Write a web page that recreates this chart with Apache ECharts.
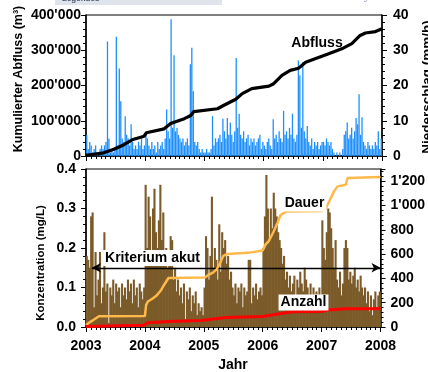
<!DOCTYPE html>
<html>
<head>
<meta charset="utf-8">
<script src="https://cdn.jsdelivr.net/npm/echarts@6/dist/echarts.min.js"></script>
<style>
html,body{margin:0;padding:0;background:#fff;}
#chart{width:428px;height:372px;}
</style>
</head>
<body>
<div id="chart"></div>
<script>
// ---- Data ----
const years = [2003, 2004, 2005, 2006, 2007];
const xTickLabels = ['2003', '2004', '2005', '2006', '2007', '2008'];

// Niederschlag (mm/h), ~9-day steps, 40 per year
const precip2003 = [6,2,4,3,1,2,3,1,0,2,3,2,3,4,32.5,5,1,2,1,2,33.8,3,24.8,15.5,5,4,11.3,6,5,3,9,4,2,3,2,4,3,5,2,3];
const precip2004 = [6,5,3,2,4,2,3,1,4,2,3,4,2,5,13.2,7,5,38.8,8,28.6,7,8,6,5,4,5,3,4,5,3,26,30.7,18.4,4,3,4,2,1,2,1];
const precip2005 = [1,2,1,1,2,11.3,3,5,4,5,6,4,10.6,7,5,10.8,6,9.5,6,4,7,27.8,8,12,6,5,7,4,5,6,3,5,4,5,3,4,5,6,2,4];
const precip2006 = [3,2,4,5,3,2,10.4,5,6,4,7,5,4,12.8,6,7,5,8,6,12,5,4,6,27.1,22.9,8,26.7,7,5,8.5,4,3,5,2,4,3,4,2,3,4];
const precip2007 = [4,3,5,4,3,4,2,1,0,1,0,1,0,2,6,7,9.5,5,6,8,5,7,10.8,9,17.5,6,11,4,3,2,4,3,2,3,2,4,3,7,2,5];

// Konzentration (mg/L), 40 per year
const conc2003 = [0.18,0.17,0.15,0.28,0.29,0.05,0.19,0.08,0.12,0.19,0.06,0.1,0.24,0.09,0.11,0.01,0.1,0.08,0.12,0.06,0.11,0.09,0.1,0.05,0.11,0.08,0.1,0.07,0.12,0.09,0.11,0.06,0.12,0.08,0.1,0.05,0.11,0.09,0.07,0.1];
const conc2004 = [0.36,0.2,0.33,0.28,0.18,0.3,0.35,0.24,0.2,0.27,0.36,0.22,0.29,0.18,0.2,0.15,0.19,0.23,0.22,0.12,0.15,0.09,0.12,0.08,0.1,0.06,0.11,0.02,0.09,0.07,0.1,0.04,0.08,0.06,0.09,0.03,0.06,0.04,0.05,0.03];
const conc2005 = [0.1,0.23,0.2,0.12,0.18,0.33,0.15,0.2,0.17,0.12,0.26,0.14,0.24,0.2,0.22,0.16,0.18,0.12,0.14,0.1,0.08,0.11,0.06,0.1,0.09,0.11,0.05,0.1,0.08,0.09,0.17,0.17,0.06,0.1,0.08,0.11,0.07,0.09,0.1,0.08];
const conc2006 = [0.2,0.28,0.385,0.3,0.22,0.3,0.25,0.34,0.3,0.28,0.24,0.22,0.2,0.16,0.18,0.12,0.14,0.1,0.13,0.09,0.11,0.13,0.08,0.12,0.1,0.14,0.11,0.09,0.15,0.12,0.1,0.07,0.11,0.08,0.1,0.06,0.09,0.07,0.1,0.08];
const conc2007 = [0.27,0.2,0.17,0.24,0.3,0.29,0.25,0.2,0.15,0.22,0.12,0.1,0.14,0.08,0.11,0.2,0.22,0.2,0.12,0.14,0.11,0.13,0.15,0.1,0.12,0.09,0.13,0.1,0.08,0.1,0.06,0.09,0.04,0.08,0.03,0.07,0.09,0.05,0.08,0.09];

// Kumulierter Abfluss (m3)
const abflussX = [2003.0,2003.3,2003.47,2003.64,2003.78,2003.98,2004.02,2004.32,2004.43,2004.66,2004.77,2004.82,2005.22,2005.33,2005.53,2005.64,2005.8,2006.09,2006.17,2006.31,2006.45,2006.59,2006.71,2006.87,2007.1,2007.32,2007.49,2007.63,2007.72,2007.89,2008.0];
const abflussY = [2000,9000,19000,32000,46000,56000,66000,77000,92000,106000,115000,126000,134000,144000,161000,177000,191000,198000,205000,229000,243000,249000,266000,276000,290000,304000,319000,342000,349000,353000,361000];

// Dauer (right axis, bottom)
const dauerX = [2003.0,2003.05,2003.1,2003.15,2003.22,2004.0,2004.02,2004.05,2004.12,2004.2,2004.27,2004.33,2004.4,2005.02,2005.08,2005.15,2005.22,2005.28,2005.33,2005.39,2005.75,2005.78,2006.0,2006.05,2006.1,2006.18,2006.25,2006.3,2006.4,2007.0,2007.07,2007.13,2007.21,2007.27,2007.41,2007.44,2008.0];
const dauerY = [15,35,50,66,88,90,180,210,230,260,300,350,403,408,430,445,475,530,585,600,610,618,630,680,705,780,856,920,951,955,975,1034,1116,1157,1170,1226,1234];

// Anzahl (right axis, bottom)
const anzahlX = [2003.0,2003.98,2004.05,2004.4,2004.95,2005.2,2005.38,2006.0,2006.1,2006.5,2007.0,2007.1,2007.42,2008.0];
const anzahlY = [5,15,35,46,54,68,78,87,95,125,128,140,150,150];

const kriterium = 0.15;
const kriteriumStart = 2003.1;

// ---- Build ----
function spread(arrs) {
  const out = [];
  arrs.forEach((a, k) => a.forEach((v, i) => out.push([years[k] + (i + 0.5) / a.length, v])));
  return out;
}
function zip(xs, ys) { return xs.map((x, i) => [x, ys[i]]); }
function apos(v) { return String(v).replace(/\B(?=(\d{3})+(?!\d))/g, "'"); }

const FONT = 'Liberation Sans, Arial, sans-serif';
const lbl = {color: '#000', fontSize: 14, fontWeight: 'bold', fontFamily: FONT};

function xAx(gi, showLabel) {
  return {
    gridIndex: gi, type: 'value', min: 2003, max: 2008, interval: 1,
    axisLine: {lineStyle: {color: '#000', width: 1.5}},
    axisTick: {show: true, length: 5, lineStyle: {color: '#000', width: 1}},
    minorTick: {show: true, splitNumber: 12, length: 3, lineStyle: {color: '#000', width: 1}},
    splitLine: {show: false}, minorSplitLine: {show: false},
    axisLabel: Object.assign({show: showLabel, margin: 12, formatter: v => xTickLabels[Math.round(v - 2003)]}, lbl)
  };
}
function yAx(gi, pos, min, max, interval, fmt, margin, extra) {
  return Object.assign({
    gridIndex: gi, type: 'value', position: pos, min: min, max: max, interval: interval,
    axisLine: {show: true, lineStyle: {color: '#000', width: 1.5}},
    axisTick: {show: true, length: 5, lineStyle: {color: '#000', width: 1}},
    minorTick: {show: true, splitNumber: 5, length: 3, lineStyle: {color: '#000', width: 1}},
    splitLine: {show: false}, minorSplitLine: {show: false},
    axisLabel: Object.assign({margin: margin, formatter: fmt}, lbl)
  }, extra || {});
}

const chart = echarts.init(document.getElementById('chart'), null, {renderer: 'canvas'});
chart.setOption({
  animation: false,
  backgroundColor: '#fff',
  grid: [
    {left: 86, top: 15, width: 296, height: 141, show: true, borderColor: '#000', borderWidth: 1},
    {left: 86, top: 169, width: 296, height: 158, show: true, borderColor: '#000', borderWidth: 1}
  ],
  xAxis: [xAx(0, false), xAx(1, true)],
  yAxis: [
    yAx(0, 'left', 0, 400000, 100000, v => apos(v), 5),
    yAx(0, 'right', 0, 40, 10, v => String(v), 11),
    yAx(1, 'left', 0, 0.4, 0.1, v => v.toFixed(1), 10),
    yAx(1, 'right', 0, 1300, 200, v => apos(v), 10, {axisLabel: Object.assign({margin: 10, formatter: v => apos(v), showMaxLabel: false}, lbl)})
  ],
  series: [
    {type: 'bar', xAxisIndex: 0, yAxisIndex: 1, data: spread([precip2003, precip2004, precip2005, precip2006, precip2007]),
     barWidth: 1.3, itemStyle: {color: '#1e8fff'}, silent: true},
    {type: 'line', xAxisIndex: 0, yAxisIndex: 0, data: zip(abflussX, abflussY), showSymbol: false,
     lineStyle: {color: '#000', width: 3.2}, z: 5},
    {type: 'bar', xAxisIndex: 1, yAxisIndex: 2, data: spread([conc2003, conc2004, conc2005, conc2006, conc2007]),
     barWidth: 2.1, itemStyle: {color: '#7b5b29'}, silent: true,
     markLine: {silent: true, symbol: ['arrow', 'arrow'], symbolSize: [7, 9], label: {show: false},
       lineStyle: {color: '#000', width: 1.3, type: 'solid'},
       data: [[{coord: [kriteriumStart, kriterium]}, {coord: [2008, kriterium]}]]}},
    {type: 'line', xAxisIndex: 1, yAxisIndex: 3, data: zip(dauerX, dauerY), showSymbol: false,
     lineStyle: {color: '#ffb84a', width: 2.5}, z: 5},
    {type: 'line', xAxisIndex: 1, yAxisIndex: 3, data: zip(anzahlX, anzahlY), showSymbol: false,
     lineStyle: {color: '#ff0000', width: 3}, z: 6}
  ],
  graphic: [
    {type: 'rect', shape: {x: 55, y: 0, width: 167, height: 5}, style: {fill: '#dfe3ec'}},
    {type: 'text', x: 62, y: -5, style: {text: 'Legendes', font: 'bold 8px ' + FONT, fill: '#4a5470'}},
    {type: 'text', x: 229, y: -5, style: {text: 'Abflussfaden Indexwerden in kleinen Fliessgewässern', font: '7px ' + FONT, fill: '#8890a8'}},
    {type: 'text', x: 19, y: 79, rotation: Math.PI / 2,
     style: {text: 'Kumulierter Abfluss (m³)', font: 'bold 12.5px ' + FONT, fill: '#000', textAlign: 'center', textVerticalAlign: 'middle'}},
    {type: 'text', x: 40.5, y: 263, rotation: Math.PI / 2,
     style: {text: 'Konzentration (mg/L)', font: 'bold 11.5px ' + FONT, fill: '#000', textAlign: 'center', textVerticalAlign: 'middle'}},
    {type: 'text', x: 427, y: 87, rotation: Math.PI / 2,
     style: {text: 'Niederschlag (mm/h)', font: 'bold 13.5px ' + FONT, fill: '#000', textAlign: 'center', textVerticalAlign: 'middle'}},
    {type: 'text', x: 233, y: 365,
     style: {text: 'Jahr', font: 'bold 14px ' + FONT, fill: '#000', textAlign: 'center', textVerticalAlign: 'middle'}},
    {type: 'text', x: 317, y: 43, z: 10,
     style: {text: 'Abfluss', font: 'bold 14px ' + FONT, fill: '#000', textAlign: 'center', textVerticalAlign: 'middle'}},
    {type: 'text', x: 152.5, y: 258, z: 10,
     style: {text: 'Kriterium akut', font: 'bold 14px ' + FONT, fill: '#000', textAlign: 'center', textVerticalAlign: 'middle',
       backgroundColor: '#fff', padding: [1, 2]}},
    {type: 'text', x: 304.5, y: 203.5, z: 10,
     style: {text: 'Dauer', font: 'bold 14px ' + FONT, fill: '#000', textAlign: 'center', textVerticalAlign: 'middle',
       backgroundColor: '#fff', padding: [1, 2]}},
    {type: 'text', x: 303.5, y: 302.5, z: 10,
     style: {text: 'Anzahl', font: 'bold 14px ' + FONT, fill: '#000', textAlign: 'center', textVerticalAlign: 'middle',
       backgroundColor: '#fff', padding: [1, 2]}}
  ]
});
</script>
</body>
</html>
